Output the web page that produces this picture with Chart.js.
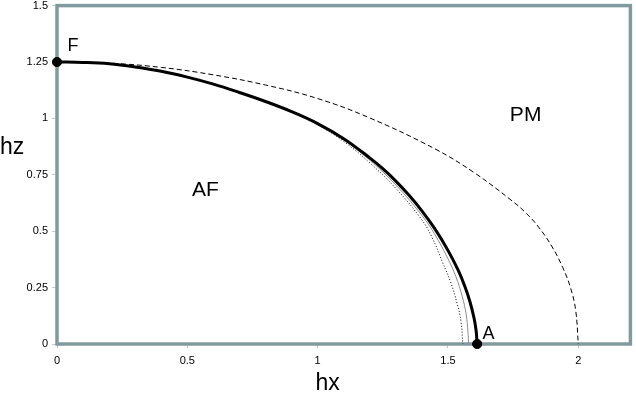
<!DOCTYPE html>
<html>
<head>
<meta charset="utf-8">
<script src="https://cdn.jsdelivr.net/npm/chart.js@4"></script>
<style>
html,body{margin:0;padding:0;background:#fff;}
#wrap{width:636px;height:401px;position:relative;}
</style>
</head>
<body>
<div id="wrap"><canvas id="c" width="636" height="401"></canvas></div>
<script>
// ---- data ----
const xTicks = [0, 0.5, 1, 1.5, 2];
const yTicks = [0, 0.25, 0.5, 0.75, 1, 1.25, 1.5];

const thickHx = [0, 0.1, 0.2, 0.3, 0.4, 0.5, 0.6, 0.7, 0.8, 0.9, 1.0, 1.1, 1.2, 1.25, 1.3, 1.35, 1.4, 1.45, 1.5, 1.54, 1.565, 1.585, 1.6, 1.608, 1.612];
const thickHz = [1.25, 1.248, 1.242, 1.228, 1.209, 1.183, 1.152, 1.115, 1.075, 1.03, 0.977, 0.91, 0.825, 0.777, 0.722, 0.66, 0.59, 0.51, 0.415, 0.325, 0.255, 0.185, 0.115, 0.06, 0];

const grayHx = [0.9, 1.0, 1.1, 1.2, 1.3, 1.4, 1.45, 1.5, 1.53, 1.555, 1.57, 1.577, 1.579];
const grayHz = [1.03, 0.975, 0.905, 0.815, 0.705, 0.57, 0.485, 0.378, 0.30, 0.21, 0.13, 0.05, 0];

const dotHx = [0.9, 1.0, 1.1, 1.2, 1.3, 1.4, 1.44, 1.48, 1.51, 1.535, 1.55, 1.557];
const dotHz = [1.03, 0.972, 0.898, 0.803, 0.69, 0.55, 0.47, 0.36, 0.275, 0.18, 0.10, 0];

const dashHx = [0, 0.2, 0.4, 0.6, 0.8, 1.0, 1.2, 1.45, 1.6, 1.742, 1.8, 1.85, 1.9, 1.94, 1.97, 1.99, 2.0];
const dashHz = [1.25, 1.245, 1.226, 1.193, 1.148, 1.088, 1.002, 0.865, 0.76, 0.638, 0.58, 0.515, 0.43, 0.34, 0.25, 0.15, 0];

const pointHx = [0, 1.612];
const pointHz = [1.25, 0];

const labelTexts = ['F', 'A', 'AF', 'PM', 'hx', 'hz'];
// ---- end data ----

const labelPos = [
  {x: 0.061, y: 1.322, size: 18},
  {x: 1.656, y: 0.042, size: 18},
  {x: 0.569, y: 0.682, size: 21},
  {x: 1.798, y: 1.014, size: 21},
  {x: 1.038, y: -0.177, size: 23},
  {x: -0.172, y: 0.87, size: 23}
];

const toPts = (xs, ys) => xs.map((x, i) => ({x: x, y: ys[i]}));
const FONT = "'Liberation Sans', Arial, Helvetica, sans-serif";

const frame = {
  id: 'frame',
  beforeDatasetsDraw(chart) {
    const {ctx, chartArea: a} = chart;
    ctx.save();
    ctx.strokeStyle = '#819a9e';
    ctx.lineWidth = 3.5;
    ctx.strokeRect(a.left, a.top, a.right - a.left, a.bottom - a.top);
    ctx.restore();
  }
};
const texts = {
  id: 'texts',
  afterDraw(chart) {
    const {ctx} = chart;
    const xs = chart.scales.x, ys = chart.scales.y;
    ctx.save();
    ctx.fillStyle = '#000';
    ctx.textAlign = 'center';
    ctx.textBaseline = 'middle';
    labelTexts.forEach((t, i) => {
      const p = labelPos[i];
      ctx.font = p.size + 'px ' + FONT;
      ctx.fillText(t, xs.getPixelForValue(p.x), ys.getPixelForValue(p.y));
    });
    ctx.restore();
  }
};

const lineBase = {showLine: true, pointRadius: 0, tension: 0.4};

new Chart(document.getElementById('c'), {
  type: 'scatter',
  data: {
    datasets: [
      {data: toPts(pointHx, pointHz), showLine: false, pointRadius: 4.6, pointBackgroundColor: '#000', pointBorderColor: '#000', order: 0, clip: false},
      Object.assign({data: toPts(thickHx, thickHz), borderColor: '#000', borderWidth: 3, order: 1, clip: false}, lineBase),
      Object.assign({data: toPts(grayHx, grayHz), borderColor: '#8c8c8c', borderWidth: 1, order: 2}, lineBase),
      Object.assign({data: toPts(dotHx, dotHz), borderColor: '#000', borderWidth: 1, borderDash: [1, 2], order: 3}, lineBase),
      Object.assign({data: toPts(dashHx, dashHz), borderColor: '#000', borderWidth: 1, borderDash: [5, 3], order: 4}, lineBase)
    ]
  },
  options: {
    responsive: false,
    animation: false,
    devicePixelRatio: 1,
    layout: {padding: {top: 5, right: 3, left: 0, bottom: 0}},
    plugins: {legend: {display: false}, tooltip: {enabled: false}},
    scales: {
      x: {
        type: 'linear', min: 0, max: 2.2,
        afterBuildTicks: s => { s.ticks = xTicks.map(v => ({value: v})); },
        afterFit: s => { s.height = 57; s.paddingLeft = 0; s.paddingRight = 0; },
        border: {display: false},
        grid: {drawOnChartArea: false, drawTicks: true, tickLength: 4, color: '#c8c8c8'},
        ticks: {color: '#000', font: {family: FONT, size: 11}, padding: 6, maxRotation: 0, callback: v => String(v)}
      },
      y: {
        type: 'linear', min: 0, max: 1.5,
        afterBuildTicks: s => { s.ticks = yTicks.map(v => ({value: v})); },
        afterFit: s => { s.width = 57; s.paddingTop = 0; s.paddingBottom = 0; },
        border: {display: false},
        grid: {drawOnChartArea: false, drawTicks: true, tickLength: 5, color: '#c8c8c8'},
        ticks: {color: '#000', font: {family: FONT, size: 11}, padding: 4, callback: v => String(v)}
      }
    }
  },
  plugins: [frame, texts]
});
</script>
</body>
</html>
